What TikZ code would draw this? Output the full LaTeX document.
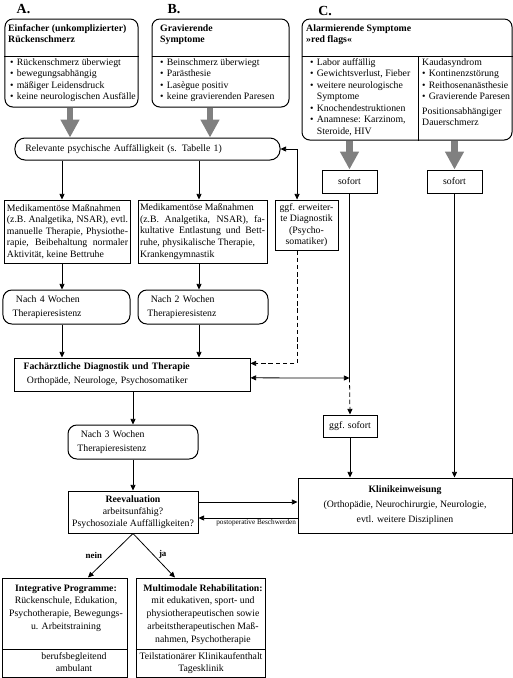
\documentclass[tikz,border=0pt]{standalone}
\usepackage{fontspec}
\setmainfont{Liberation Serif}
\usetikzlibrary{arrows.meta}
\tikzstyle{box} = [rectangle, draw, line width=.9pt, inner sep=2pt, align=center]
\tikzstyle{rbox} = [box, rounded corners=7pt]
\tikzstyle{weeks} = [rbox, rounded corners=8pt, minimum height=30.6pt, inner xsep=8.5pt, align=left, font=\fontsize{8.8}{12.6}\selectfont]
\tikzstyle{txt} = [inner sep=0pt, anchor=north west, align=left]
\tikzstyle{head} = [txt, font=\fontsize{8.8}{10.4}\selectfont\bfseries]
\tikzstyle{arrow} = [line width=.7pt, -{Triangle[length=5pt, width=4.5pt]}]
\tikzstyle{dblarrow} = [line width=.7pt, {Triangle[length=5pt, width=4.5pt]}-{Triangle[length=5pt, width=4.5pt]}]
\tikzstyle{bigarrow} = [line width=6pt, draw=gray, -{Triangle[length=16pt, width=16pt]}]
\newcommand{\bitem}{\makebox[6pt][l]{\textbullet}}

\begin{document}
\begin{tikzpicture}[x=.9pt, y=-.9pt, font=\fontsize{8.8}{10.4}\selectfont]
\useasboundingbox (0,0) rectangle (513,678);

% column letters
\node[font=\fontsize{12.5}{14}\selectfont\bfseries] (labA) at (23.5,9) {A.};
\node[font=\fontsize{12.5}{14}\selectfont\bfseries] (labB) at (174,9) {B.};
\node[font=\fontsize{12.5}{14}\selectfont\bfseries] (labC) at (325,11) {C.};

% top boxes
\node[rbox, minimum width=119.7pt, minimum height=79.2pt] (boxA) at (71.5,63) {};
\node[rbox, minimum width=123.3pt, minimum height=79.2pt] (boxB) at (220.5,63) {};
\node[rbox, minimum width=189pt, minimum height=108.9pt] (boxC) at (407,79.5) {};
\coordinate (divtop) at (0,56);
\coordinate (divC) at (418,0);
\draw[line width=.9pt] (boxA.west |- divtop) -- (boxA.east |- divtop);
\draw[line width=.9pt] (boxB.west |- divtop) -- (boxB.east |- divtop);
\draw[line width=.9pt] (boxC.west |- divtop) -- (boxC.east |- divtop);
\draw[line width=.9pt] (divC |- divtop) -- (divC |- boxC.south);

\node[head] (titA) at (8,24) {Einfacher (unkomplizierter)\\Rückenschmerz};
\node[txt] (bulA) at (10,58) {\bitem Rückenschmerz überwiegt\\\bitem bewegungsabhängig\\\bitem mäßiger Leidensdruck\\\bitem keine neurologischen Ausfälle};
\node[head] (titB) at (160,24) {Gravierende\\Symptome};
\node[txt] (bulB) at (160,58) {\bitem Beinschmerz überwiegt\\\bitem Parästhesie\\\bitem Lasègue positiv\\\bitem keine gravierenden Paresen};
\node[head] (titC) at (306,24) {Alarmierende Symptome\\»red flags«};
\node[txt] (bulC) at (310,58) {\bitem Labor auffällig\\\bitem Gewichtsverlust, Fieber\\\bitem weitere neurologische\\\makebox[6pt]{}Symptome\\\bitem Knochendestruktionen\\\bitem Anamnese: Karzinom,\\\makebox[6pt]{}Steroide, HIV};
\node[txt] (kauC) at (422,58) {Kaudasyndrom\\\bitem Kontinenzstörung\\\bitem Reithosenanästhesie\\\bitem Gravierende Paresen\\[2.5pt]Positionsabhängiger\\Dauerschmerz};

% middle part
\node[rbox, rounded corners=9pt, minimum width=238.5pt, minimum height=19.8pt, text width=220pt, inner xsep=9pt, align=left] (rel) at (147.5,149) {Relevante psychische Auffälligkeit (s. Tabelle 1)};
\node[box, minimum width=49.5pt, minimum height=20.7pt] (sof1) at (349.5,181.5) {sofort};
\node[box, minimum width=49.5pt, minimum height=20.7pt] (sof2) at (454.5,181.5) {sofort};

\node[box, minimum width=112.5pt, minimum height=56.7pt, text width=109pt, inner xsep=1.75pt, align=justify] (medA) at (67.5,231.5) {Medikamentöse Maßnahmen\newline (z.B. Analgetika, NSAR), evtl.\linebreak manuelle Therapie, Physiothe-\linebreak rapie, Beibehaltung normaler\linebreak Aktivität, keine Bettruhe};
\node[box, minimum width=116.1pt, minimum height=56.7pt, text width=112.5pt, inner xsep=1.8pt, align=justify] (medB) at (202.5,231.5) {Medikamentöse Maßnahmen\newline (z.B. Analgetika, NSAR), fa-\linebreak kultative Entlastung und Bett-\linebreak ruhe, physikalische Therapie,\newline Krankengymnastik};
\node[box, minimum width=56.7pt, minimum height=45pt] (ggf) at (306.5,225) {ggf. erweiter-\\te Diagnostik\\(Psycho-\\somatiker)};

\node[weeks, minimum width=114.3pt, text width=97pt] (nach4) at (66.5,307) {\hspace*{3pt}Nach 4 Wochen\\Therapieresistenz};
\node[weeks, minimum width=117pt, text width=100pt] (nach2) at (203,307) {\hspace*{3pt}Nach 2 Wochen\\Therapieresistenz};

\node[box, minimum width=211.5pt, minimum height=29.7pt, text width=196pt, inner xsep=7.5pt, align=left, font=\fontsize{8.8}{12.6}\selectfont] (fach) at (132.5,374.5) {\textbf{Fachärztliche Diagnostik und Therapie}\\\hspace*{3pt}Orthopäde, Neurologe, Psychosomatiker};
\node[box, minimum width=48.6pt, minimum height=19.8pt] (ggfsof) at (350,426) {ggf. sofort};

% lower part
\node[weeks, minimum width=117pt, text width=100pt] (nach3) at (133,442) {\hspace*{3pt}Nach 3 Wochen\\Therapieresistenz};
\node[box, minimum width=117pt, minimum height=37.8pt, font=\fontsize{8.8}{10.8}\selectfont] (reeval) at (133,512) {\textbf{Reevaluation}\\arbeitsunfähig?\\Psychosoziale Auffälligkeiten?};
\node[box, minimum width=192.6pt, minimum height=49.5pt, font=\fontsize{8.8}{13.5}\selectfont] (klinik) at (405,505.5) {\textbf{Klinikeinweisung}\\(Orthopädie, Neurochirurgie, Neurologie,\\evtl. weitere Disziplinen};

\node[box, minimum width=111.6pt, minimum height=89.1pt] (integ) at (65,627.5) {};
\node[box, minimum width=116.1pt, minimum height=89.1pt] (multi) at (200.5,627.5) {};
\coordinate (divbot) at (0,649.5);
\draw[line width=.9pt] (integ.west |- divbot) -- (integ.east |- divbot);
\draw[line width=.9pt] (multi.west |- divbot) -- (multi.east |- divbot);
\node[anchor=north, inner sep=0pt, align=center, font=\fontsize{8.8}{11.5}\selectfont] (integtop) at (66,584) {\textbf{Integrative Programme:}\\Rückenschule, Edukation,\\Psychotherapie, Bewegungs-\\u. Arbeitstraining};
\node[anchor=north, inner sep=0pt, align=center, font=\fontsize{8.8}{10.8}\selectfont] (integbot) at (74,652) {berufsbegleitend\\ambulant};
\node[anchor=north, inner sep=0pt, align=center, font=\fontsize{8.8}{11.5}\selectfont] (multitop) at (203,584) {\textbf{Multimodale Rehabilitation:}\\mit edukativen, sport- und\\physiotherapeutischen sowie\\arbeitstherapeutischen Maß-\\nahmen, Psychotherapie};
\node[anchor=north, inner sep=0pt, align=center, font=\fontsize{8.8}{10.8}\selectfont] (multibot) at (201,652) {Teilstationärer Klinikaufenthalt\\Tagesklinik};

% helper coordinates
\coordinate (colA) at (62,0);
\coordinate (colB) at (199,0);
\coordinate (gA) at (70,0);
\coordinate (gB) at (210,0);
\coordinate (sofmid) at (349.5,378);
\coordinate (rk1) at ([yshift=9pt]reeval.east);
\coordinate (rk2) at ([yshift=-5.4pt]reeval.east);

% gray arrows
\draw[bigarrow] (boxA.south -| gA) -- (rel.north -| gA);
\draw[bigarrow] (boxB.south -| gB) -- (rel.north -| gB);
\draw[bigarrow] (sof1.north |- boxC.south) -- (sof1.north);
\draw[bigarrow] (sof2.north |- boxC.south) -- (sof2.north);

% arrows
\draw[arrow] (rel.south -| colA) -- (medA.north -| colA);
\draw[arrow] (rel.south -| colB) -- (medB.north -| colB);
\draw[dblarrow] (rel.east) -| ([xshift=-8.5pt]ggf.north);
\draw[arrow] (medA.south -| colA) -- (nach4.north -| colA);
\draw[arrow] (medB.south -| colB) -- (nach2.north -| colB);
\draw[arrow] (nach4.south -| colA) -- (fach.north -| colA);
\draw[arrow] (nach2.south -| colB) -- (fach.north -| colB);
\draw[arrow, dash pattern=on 4pt off 2.5pt] ([xshift=-8.5pt]ggf.south) |- ([yshift=10pt]fach.east);
\draw[dblarrow] ([yshift=-3pt]fach.east) -- (sofmid);
\draw[line width=.7pt] (sof1.south) -- (sofmid);
\draw[arrow, dash pattern=on 4pt off 2.5pt] (sofmid) -- (ggfsof.north);
\draw[arrow] (ggfsof.south) -- (klinik.north -| ggfsof.south);
\draw[arrow] (sof2.south) -- (klinik.north -| sof2.south);
\draw[arrow] (fach.south -| nach3.north) -- (nach3.north);
\draw[arrow] (nach3.south) -- (reeval.north);
\draw[arrow] (rk1) -- (rk1 -| klinik.west);
\draw[arrow] (rk2 -| klinik.west) -- (rk2) node[pos=0, anchor=north east, inner sep=1pt, font=\fontsize{6.5}{7}\selectfont] (postop) {postoperative Beschwerden};
\draw[arrow] (reeval.south) -- ([xshift=20.7pt]integ.north) node[pos=.5, left=4pt, font=\fontsize{8}{9}\selectfont\bfseries] (nein) {nein};
\draw[arrow] (reeval.south) -- ([xshift=-23pt]multi.north) node[pos=.47, right=2pt, font=\fontsize{8}{9}\selectfont\bfseries] (ja) {ja};
\end{tikzpicture}
\end{document}
